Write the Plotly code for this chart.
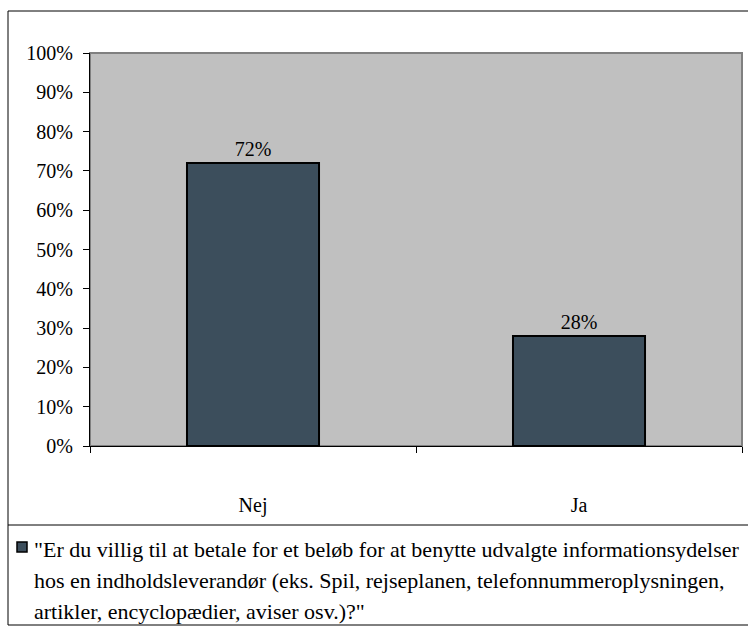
import plotly.graph_objects as go

# Survey answers and their shares
categories = ["Nej", "Ja"]
shares = [0.72, 0.28]
y_ticks = [0.0, 0.1, 0.2, 0.3, 0.4, 0.5, 0.6, 0.7, 0.8, 0.9, 1.0]
series_lines = [
    "\"Er du villig til at betale for et beløb for at benytte udvalgte informationsydelser",
    "hos en indholdsleverandør (eks. Spil, rejseplanen, telefonnummeroplysningen,",
    "artikler, encyclopædier, aviser osv.)?\"",
]

W, H = 748, 628
L, R, T, B = 90, 6, 53, 182
pw, ph = W - L - R, H - T - B

def px(x):
    return (x - L) / pw

def py(y):
    return (H - B - y) / ph

FONT = "Liberation Serif"
BAR = "#3C4E5C"

fig = go.Figure(
    go.Bar(
        x=categories,
        y=shares,
        marker=dict(color=BAR, line=dict(color="#000000", width=2)),
        texttemplate="%{y:.0%}",
        textposition="outside",
        textfont=dict(family=FONT, size=20, color="#000000"),
        cliponaxis=False,
        width=0.405,
        showlegend=False,
    )
)

shapes = [
    # plot-area frame (top and right edges)
    dict(type="rect", xref="paper", yref="paper", x0=0, x1=1, y0=0, y1=1,
         line=dict(color="#808080", width=2), layer="below"),
    # outer chart border
    dict(type="rect", xref="paper", yref="paper", x0=px(8), x1=px(760),
         y0=py(625), y1=py(11), line=dict(color="#000000", width=1)),
    # legend box top
    dict(type="line", xref="paper", yref="paper", x0=px(8), x1=px(760),
         y0=py(525), y1=py(525), line=dict(color="#000000", width=1)),
    # legend swatch
    dict(type="rect", xref="paper", yref="paper", x0=px(17), x1=px(27),
         y0=py(552), y1=py(542), fillcolor=BAR,
         line=dict(color="#000000", width=1.5)),
]

annotations = []
for line, yy in zip(series_lines, [549, 580, 611]):
    annotations.append(dict(
        text=line, xref="paper", yref="paper", x=px(32), y=py(yy),
        xanchor="left", yanchor="middle", showarrow=False,
        font=dict(family=FONT, size=22, color="#000000"),
    ))

fig.update_layout(
    width=W, height=H,
    margin=dict(l=L, r=R, t=T, b=B),
    paper_bgcolor="#FFFFFF",
    plot_bgcolor="#C0C0C0",
    shapes=shapes,
    annotations=annotations,
    font=dict(family=FONT, size=20, color="#000000"),
    xaxis=dict(
        range=[-0.5, 1.5],
        showline=True, linecolor="#000000", linewidth=1,
        ticks="outside", tickson="boundaries", ticklen=6, tickcolor="#000000",
        showgrid=False, ticklabelstandoff=41,
        tickfont=dict(family=FONT, size=20),
    ),
    yaxis=dict(
        range=[0, 1],
        tickvals=y_ticks, tickformat=".0%",
        showline=True, linecolor="#000000", linewidth=1,
        ticks="outside", ticklen=6, tickcolor="#000000",
        showgrid=False, zeroline=False, ticklabelstandoff=6,
        tickfont=dict(family=FONT, size=20),
    ),
)

fig.write_html("out.html")
